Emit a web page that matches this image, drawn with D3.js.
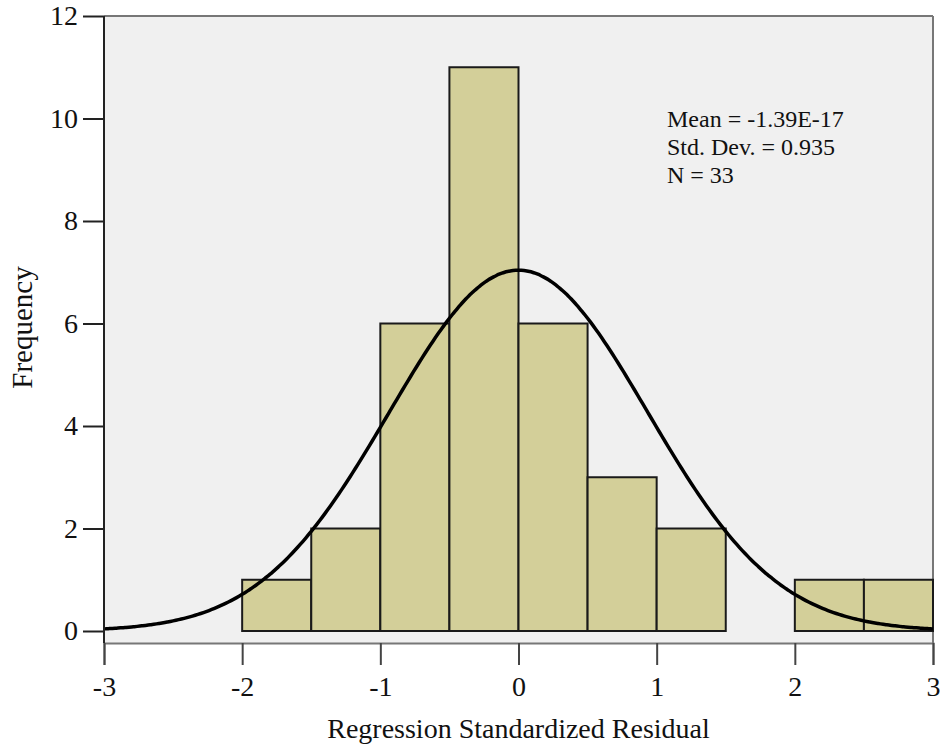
<!DOCTYPE html>
<html>
<head>
<meta charset="utf-8">
<script src="https://cdn.jsdelivr.net/npm/d3@7"></script>
<style>
  html, body { margin: 0; padding: 0; background: #ffffff; }
  svg { display: block; }
  text { font-family: "Liberation Serif", "DejaVu Serif", serif; fill: #111; }
</style>
</head>
<body>
<svg id="chart" width="940" height="746"></svg>
<script>
// Histogram of regression standardized residuals (bin width 0.5)
const binStarts = [-2, -1.5, -1, -0.5, 0, 0.5, 1, 1.5, 2, 2.5];
const binWidth = 0.5;
const frequencies = [1, 2, 6, 11, 6, 3, 2, 0, 1, 1];

const xTicks = [-3, -2, -1, 0, 1, 2, 3];
const yTicks = [0, 2, 4, 6, 8, 10, 12];

const statLines = ["Mean = -1.39E-17", "Std. Dev. = 0.935", "N = 33"];
const meanValue = -1.39e-17;
const stdDev = 0.935;
const nCases = 33;

const xLabel = "Regression Standardized Residual";
const yLabel = "Frequency";

const svg = d3.select("#chart");

const x = d3.scaleLinear().domain([-3, 3]).range([104, 933]);
const y = d3.scaleLinear().domain([0, 12]).range([631, 16]);

const plotTop = 16, plotBottom = 643;
const plain = d => String(d); // keep ASCII hyphen for negatives

// plot background
svg.append("rect")
  .attr("x", x(-3)).attr("y", plotTop)
  .attr("width", x(3) - x(-3)).attr("height", plotBottom - plotTop)
  .attr("fill", "#f0f0f0");

// frame: top and right in grey
svg.append("line")
  .attr("x1", x(-3)).attr("x2", x(3)).attr("y1", plotTop).attr("y2", plotTop)
  .attr("stroke", "#777").attr("stroke-width", 2);
svg.append("line")
  .attr("x1", x(3)).attr("x2", x(3)).attr("y1", plotTop).attr("y2", plotBottom)
  .attr("stroke", "#777").attr("stroke-width", 2);

// bars
svg.append("g").selectAll("rect")
  .data(binStarts.map((s, i) => ({ s, f: frequencies[i] })).filter(d => d.f > 0))
  .join("rect")
  .attr("x", d => x(d.s))
  .attr("y", d => y(d.f))
  .attr("width", d => x(d.s + binWidth) - x(d.s))
  .attr("height", d => y(0) - y(d.f))
  .attr("fill", "#d3cf99")
  .attr("stroke", "#1a1a1a")
  .attr("stroke-width", 2);

// normal curve scaled to counts
const curvePts = d3.range(-3, 3.0001, 0.02).map(v => {
  const z = (v - meanValue) / stdDev;
  return [v, nCases * binWidth * Math.exp(-0.5 * z * z) / (stdDev * Math.sqrt(2 * Math.PI))];
});
svg.append("path")
  .datum(curvePts)
  .attr("d", d3.line().x(d => x(d[0])).y(d => y(d[1])).curve(d3.curveBasis))
  .attr("fill", "none")
  .attr("stroke", "#000")
  .attr("stroke-width", 3.5);

// x axis
const xAxis = svg.append("g").attr("transform", `translate(0,${plotBottom})`)
  .call(d3.axisBottom(x).tickValues(xTicks).tickFormat(plain).tickSize(22).tickPadding(11));
xAxis.select(".domain").attr("stroke", "#777").attr("stroke-width", 2);
xAxis.selectAll(".tick line").attr("stroke", "#444").attr("stroke-width", 2);
xAxis.selectAll(".tick text").attr("font-size", 28).attr("font-family", "Liberation Serif").attr("fill", "#111");

// y axis
const yAxis = svg.append("g").attr("transform", `translate(${x(-3)},0)`)
  .call(d3.axisLeft(y).tickValues(yTicks).tickFormat(plain).tickSize(21).tickPadding(5));
yAxis.select(".domain").remove();
svg.append("line")
  .attr("x1", x(-3)).attr("x2", x(-3)).attr("y1", plotTop).attr("y2", plotBottom)
  .attr("stroke", "#222").attr("stroke-width", 2);
yAxis.selectAll(".tick line").attr("stroke", "#222").attr("stroke-width", 2);
yAxis.selectAll(".tick text").attr("font-size", 28).attr("font-family", "Liberation Serif").attr("fill", "#111");

// axis titles
svg.append("text")
  .attr("x", (x(-3) + x(3)) / 2).attr("y", 738)
  .attr("text-anchor", "middle").attr("font-size", 28)
  .text(xLabel);
svg.append("text")
  .attr("transform", `translate(32,${(y(0) + y(12)) / 2 + 4}) rotate(-90)`)
  .attr("text-anchor", "middle").attr("font-size", 29)
  .text(yLabel);

// summary statistics
svg.append("g").selectAll("text")
  .data(statLines)
  .join("text")
  .attr("x", 667)
  .attr("y", (d, i) => 127 + i * 28)
  .attr("font-size", 24)
  .text(d => d);
</script>
</body>
</html>
